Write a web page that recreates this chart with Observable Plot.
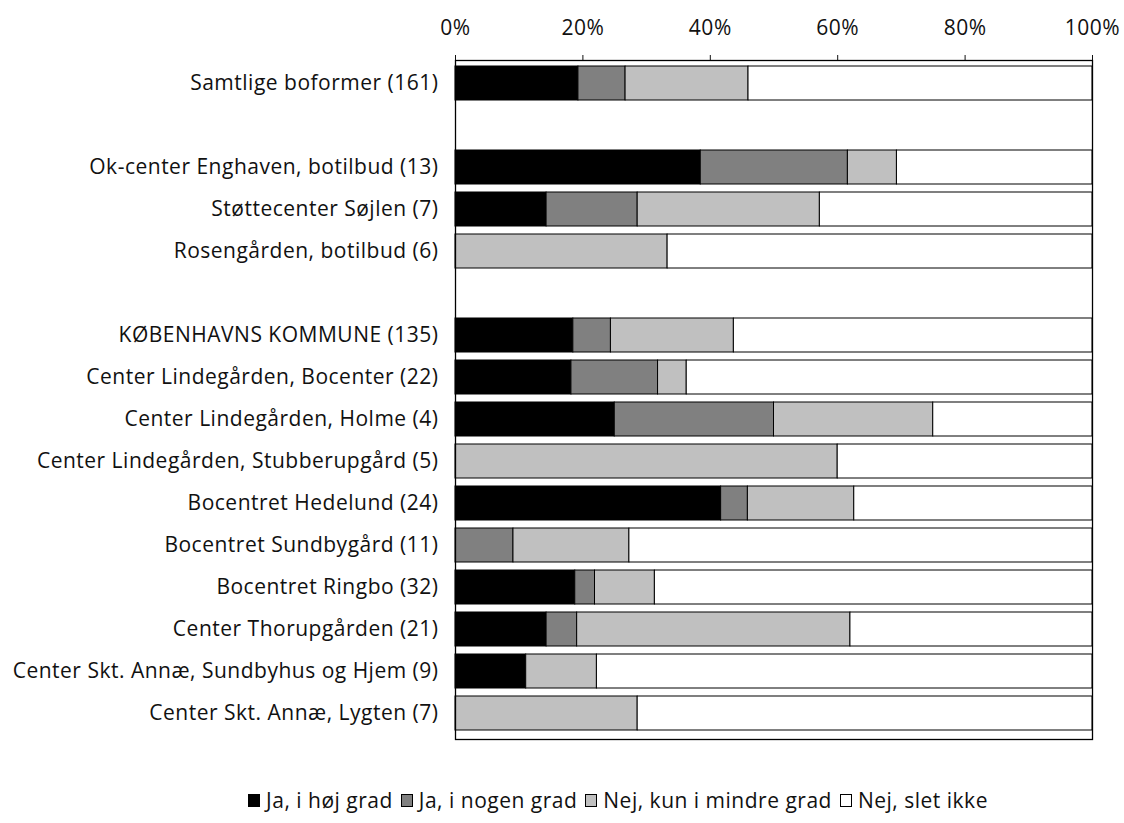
<!DOCTYPE html>
<html>
<head>
<meta charset="utf-8">
<script src="https://cdn.jsdelivr.net/npm/d3@7"></script>
<script src="https://cdn.jsdelivr.net/npm/@observablehq/plot@0.6"></script>
<style>
  html, body { margin: 0; padding: 0; background: #fff; }
  body { width: 1124px; height: 823px; overflow: hidden; font-family: "Open Sans", sans-serif; }
  #chart svg { display: block; }
  #legend { display: flex; justify-content: center; align-items: center; font-size: 21px; letter-spacing: 0.5px; color: #111; margin-top: 26px; padding-left: 112px; }
  #legend .item { display: flex; align-items: center; margin: 0 4px; }
  #legend .sw { width: 12px; height: 13px; border: 1.3px solid #000; margin-right: 6px; box-sizing: border-box; }
</style>
</head>
<body>
<div id="chart"></div>
<div id="legend"></div>
<script>
const rows = [
  "Samtlige boformer (161)", " ",
  "Ok-center Enghaven, botilbud (13)", "Støttecenter Søjlen (7)", "Rosengården, botilbud (6)", "  ",
  "KØBENHAVNS KOMMUNE (135)", "Center Lindegården, Bocenter (22)", "Center Lindegården, Holme (4)",
  "Center Lindegården, Stubberupgård (5)", "Bocentret Hedelund (24)", "Bocentret Sundbygård (11)",
  "Bocentret Ringbo (32)", "Center Thorupgården (21)", "Center Skt. Annæ, Sundbyhus og Hjem (9)",
  "Center Skt. Annæ, Lygten (7)"
];
const seriesNames = ["Ja, i høj grad", "Ja, i nogen grad", "Nej, kun i mindre grad", "Nej, slet ikke"];
const seriesColors = ["#000000", "#808080", "#c0c0c0", "#ffffff"];
const hoej   = [19.3, 0, 38.5, 14.3, 0,    0, 18.5, 18.2, 25, 0,  41.7, 0,    18.8, 14.3, 11.1, 0];
const nogen  = [7.4,  0, 23.1, 14.3, 0,    0, 5.9,  13.6, 25, 0,  4.2,  9.1,  3.1,  4.8,  0,    0];
const mindre = [19.3, 0, 7.7,  28.6, 33.3, 0, 19.3, 4.5,  25, 60, 16.7, 18.2, 9.4,  42.9, 11.1, 28.6];
const slet   = [54.0, 0, 30.7, 42.8, 66.7, 0, 56.3, 63.7, 25, 40, 37.4, 72.7, 68.7, 38.0, 77.8, 71.4];
const xTicks = [0, 20, 40, 60, 80, 100];

const seriesValues = [hoej, nogen, mindre, slet];
const data = rows.flatMap((r, i) => seriesValues.map((s, k) => ({row: r, series: seriesNames[k], value: s[i]})))
  .filter(d => d.value > 0);

const chart = Plot.plot({
  width: 1124,
  height: 760,
  marginLeft: 455,
  marginRight: 32,
  marginTop: 60,
  marginBottom: 21,
  style: {fontFamily: "'Open Sans', sans-serif", fontSize: "21px", letterSpacing: "0.5px", color: "#111", background: "#fff"},
  x: {domain: [0, 100], axis: "top", ticks: xTicks, tickFormat: d => d + "%", tickSize: 6, tickPadding: 20, label: null},
  y: {domain: rows, range: [59, 737], paddingInner: 0.2, paddingOuter: 0.1, tickSize: 0, tickPadding: 17, label: null},
  color: {domain: seriesNames, range: seriesColors},
  marks: [
    Plot.barX(data, Plot.stackX({x: "value", y: "row", fill: "series", order: seriesNames, stroke: "#000", strokeWidth: 1})),
    Plot.frame({stroke: "#000", strokeWidth: 1.3})
  ]
});
document.getElementById("chart").appendChild(chart);

const legend = document.getElementById("legend");
seriesNames.forEach((n, i) => {
  const it = document.createElement("div");
  it.className = "item";
  const sw = document.createElement("span");
  sw.className = "sw";
  sw.style.background = seriesColors[i];
  const t = document.createElement("span");
  t.textContent = n;
  it.appendChild(sw); it.appendChild(t);
  legend.appendChild(it);
});
</script>
</body>
</html>
